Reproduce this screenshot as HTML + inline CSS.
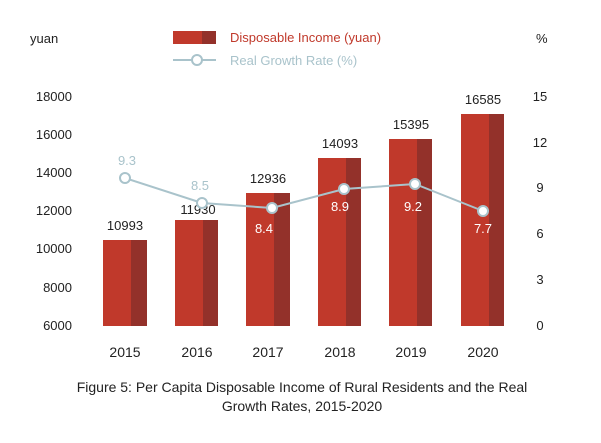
<!DOCTYPE html>
<html><head><meta charset="utf-8"><style>
body{margin:0;width:601px;height:438px;background:#fff;overflow:hidden}
svg{font-family:"Liberation Sans",sans-serif}
</style></head><body>
<svg width="601" height="438" xmlns="http://www.w3.org/2000/svg">
<g font-size="13" fill="#222">
<text x="30" y="43">yuan</text>
<text x="536" y="43">%</text>
<g text-anchor="end">
<text x="72" y="101">18000</text><text x="72" y="139">16000</text><text x="72" y="177">14000</text>
<text x="72" y="215">12000</text><text x="72" y="253">10000</text><text x="72" y="292">8000</text><text x="72" y="330">6000</text>
</g>
<g text-anchor="middle">
<text x="540" y="101">15</text><text x="540" y="147">12</text><text x="540" y="192">9</text>
<text x="540" y="238">6</text><text x="540" y="284">3</text><text x="540" y="330">0</text>
</g>
</g>
<rect x="173" y="31" width="29" height="13" fill="#c0392b"/><rect x="202" y="31" width="14" height="13" fill="#93312a"/>
<text x="230" y="42" font-size="13" fill="#c0392b">Disposable Income (yuan)</text>
<line x1="173" y1="60" x2="216" y2="60" stroke="#a9c3cb" stroke-width="2"/>
<circle cx="197" cy="60" r="5" fill="#fff" stroke="#a9c3cb" stroke-width="2"/>
<text x="230" y="65" font-size="13" fill="#a9c3cb">Real Growth Rate (%)</text>
<g>
<rect x="103" y="240" width="28" height="86" fill="#c0392b"/><rect x="131" y="240" width="16" height="86" fill="#93312a"/>
<rect x="175" y="220" width="28" height="106" fill="#c0392b"/><rect x="203" y="220" width="15" height="106" fill="#93312a"/>
<rect x="246" y="193" width="28" height="133" fill="#c0392b"/><rect x="274" y="193" width="16" height="133" fill="#93312a"/>
<rect x="318" y="158" width="28" height="168" fill="#c0392b"/><rect x="346" y="158" width="15" height="168" fill="#93312a"/>
<rect x="389" y="139" width="28" height="187" fill="#c0392b"/><rect x="417" y="139" width="15" height="187" fill="#93312a"/>
<rect x="461" y="114" width="28" height="212" fill="#c0392b"/><rect x="489" y="114" width="15" height="212" fill="#93312a"/>
</g>
<g font-size="13" fill="#222" text-anchor="middle">
<text x="125" y="230">10993</text><text x="198" y="214">11930</text><text x="268" y="183">12936</text>
<text x="340" y="148">14093</text><text x="411" y="129">15395</text><text x="483" y="104">16585</text>
</g>
<g font-size="14" fill="#222" text-anchor="middle">
<text x="125" y="357">2015</text><text x="197" y="357">2016</text><text x="268" y="357">2017</text>
<text x="340" y="357">2018</text><text x="411" y="357">2019</text><text x="483" y="357">2020</text>
</g>
<polyline points="125,178 202,203 272,208 344,189 415,184 483,211" fill="none" stroke="#a9c3cb" stroke-width="2"/>
<g fill="#fff" stroke="#a9c3cb" stroke-width="2">
<circle cx="125" cy="178" r="5"/><circle cx="202" cy="203" r="5"/><circle cx="272" cy="208" r="5"/>
<circle cx="344" cy="189" r="5"/><circle cx="415" cy="184" r="5"/><circle cx="483" cy="211" r="5"/>
</g>
<g font-size="13" text-anchor="middle">
<text x="127" y="165" fill="#a9c3cb">9.3</text><text x="200" y="190" fill="#a9c3cb">8.5</text>
<text x="264" y="233" fill="#fff">8.4</text><text x="340" y="211" fill="#fff">8.9</text>
<text x="413" y="211" fill="#fff">9.2</text><text x="483" y="233" fill="#fff">7.7</text>
</g>
<g font-size="14" fill="#222" text-anchor="middle">
<text x="302" y="392">Figure 5: Per Capita Disposable Income of Rural Residents and the Real</text>
<text x="302" y="411">Growth Rates, 2015-2020</text>
</g>
</svg>
</body></html>
